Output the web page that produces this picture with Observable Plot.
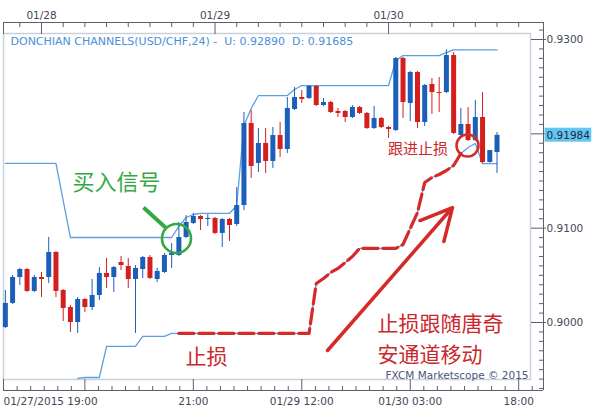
<!DOCTYPE html>
<html><head><meta charset="utf-8">
<script src="https://cdn.jsdelivr.net/npm/d3@7"></script>
<script src="https://cdn.jsdelivr.net/npm/@observablehq/plot@0.6"></script>
<style>
html,body{margin:0;padding:0;background:#fff;}
#chart{width:600px;height:412px;}
</style></head><body><div id="chart"></div>
<script>
// hourly candles, hours relative to 01/28 00:00 (first = 01/27 19:00)
const hours = d3.range(-5, 64);
const open = [0.89947,0.90202,0.90477,0.90562,0.90329,0.90477,0.90477,0.90742,0.90339,0.90159,
0.90000,0.90244,0.90159,0.90286,0.90520,0.90477,0.90636,0.90594,0.90456,0.90562,
0.90689,0.90456,0.90530,0.90710,0.90710,0.90901,0.91050,0.91124,0.91092,0.91103,
0.90944,0.91092,0.91039,0.91240,0.92110,0.91686,0.91898,0.91707,0.91982,0.91834,
0.92258,0.92385,0.92375,0.92502,0.92300,0.92332,0.92237,0.92237,0.92173,0.92279,
0.92216,0.92057,0.92163,0.92067,0.92035,0.92799,0.92322,0.92650,0.92120,0.92523,
0.92438,0.92438,0.92830,0.91982,0.92099,0.91929,0.92173,0.91696,0.91802];
const high = [0.90339,0.90498,0.90573,0.90573,0.90498,0.90530,0.90901,0.90752,0.90349,0.90180,
0.90265,0.90255,0.90456,0.90583,0.90679,0.90594,0.90700,0.90679,0.90604,0.90700,
0.90710,0.90573,0.90732,0.90838,0.91060,0.91134,0.91156,0.91134,0.91145,0.91113,
0.91103,0.91103,0.91431,0.92226,0.92247,0.92057,0.92057,0.92067,0.92120,0.92385,
0.92491,0.92459,0.92512,0.92512,0.92375,0.92343,0.92269,0.92247,0.92300,0.92290,
0.92226,0.92290,0.92173,0.92078,0.92809,0.92809,0.92661,0.92661,0.92523,0.92587,
0.92597,0.92890,0.92862,0.92269,0.92279,0.92353,0.92438,0.91813,0.92014];
const low = [0.89937,0.90191,0.90392,0.90318,0.90318,0.90265,0.90414,0.90265,0.90010,0.89894,
0.89884,0.90106,0.90127,0.90233,0.90361,0.90318,0.90551,0.90361,0.89884,0.90467,
0.90456,0.90424,0.90520,0.90573,0.90700,0.90891,0.91039,0.90975,0.91018,0.90933,
0.90795,0.90859,0.91018,0.91187,0.91527,0.91590,0.91580,0.91633,0.91749,0.91792,
0.92247,0.92322,0.92364,0.92290,0.92290,0.92216,0.92173,0.92120,0.92163,0.92205,
0.92046,0.92046,0.92057,0.91951,0.92025,0.92163,0.92131,0.92057,0.92078,0.92205,
0.92226,0.92428,0.91993,0.91972,0.91919,0.91919,0.91685,0.91690,0.91580];
const close = [0.90202,0.90477,0.90562,0.90329,0.90477,0.90456,0.90742,0.90329,0.90149,0.90000,
0.90244,0.90159,0.90286,0.90520,0.90477,0.90583,0.90604,0.90456,0.90573,0.90689,
0.90467,0.90541,0.90710,0.90732,0.90901,0.91060,0.91124,0.91092,0.91103,0.90944,
0.91092,0.91028,0.91240,0.92110,0.91654,0.91898,0.91707,0.91982,0.91834,0.92269,
0.92385,0.92364,0.92502,0.92300,0.92332,0.92226,0.92216,0.92173,0.92279,0.92216,
0.92057,0.92163,0.92067,0.92046,0.92799,0.92332,0.92650,0.92120,0.92512,0.92438,
0.92428,0.92830,0.92004,0.92099,0.91929,0.92173,0.91696,0.91823,0.91984];
const upper = [0.91686,0.91686,0.91686,0.91686,0.91686,0.91686,0.91686,0.91686,0.91293,0.90901,
0.90901,0.90901,0.90901,0.90901,0.90901,0.90901,0.90901,0.90901,0.90901,0.90901,
0.90901,0.90901,0.90901,0.90901,0.91018,0.91113,0.91145,0.91156,0.91156,0.91156,
0.91156,0.91156,0.91240,0.92088,0.92269,0.92406,0.92406,0.92406,0.92406,0.92406,
0.92470,0.92512,0.92512,0.92512,0.92512,0.92512,0.92512,0.92512,0.92512,0.92512,
0.92512,0.92512,0.92512,0.92512,0.92777,0.92830,0.92830,0.92830,0.92830,0.92830,
0.92830,0.92862,0.92890,0.92890,0.92890,0.92890,0.92890,0.92890,0.92890];
const lower = [null,null,null,null,null,null,null,null,null,null,
0.89407,0.89417,0.89417,0.89417,0.89746,0.89746,0.89746,0.89746,0.89746,0.89852,
0.89852,0.89852,0.89852,0.89884,0.89884,0.89884,0.89884,0.89884,0.89884,0.89884,
0.89884,0.89884,0.89884,0.89884,0.89884,0.89884,0.89884,0.89884,0.89884,0.89884,
0.89884,0.89884,0.89884,0.90414,0.90467,0.90530,0.90573,0.90636,0.90700,0.90785,
0.90785,0.90785,0.90785,0.90785,0.90785,0.90827,0.90997,0.91166,0.91484,0.91537,
0.91569,0.91611,0.91664,0.91792,0.91855,0.91898,0.91685,0.91685,0.91685];

// axis ticks
const topMajor = [-5.256, 0, 24, 48];
const topLabels = ["", "01/28", "01/29", "01/30"];
const bottomMajor = [-5.256, 6, 21, 36, 51, 66];
const bottomLabels = ["", "", "21:00", "01/29 12:00", "01/30 03:00", "18:00"];
const firstBottomLabel = "01/27/2015 19:00";
const yMajor = [0.90, 0.91, 0.92, 0.93];
const yLabels = ["0.9000", "0.9100", "", "0.9300"];
const legendText = "DONCHIAN CHANNELS(USD/CHF,24) -\u00a0\u00a0U: 0.92890\u00a0\u00a0D: 0.91685";
const lastPrice = 0.91984;

// annotations (data coordinates)
const buyText = [{h: 10.37, p: 0.91474, t: "买入信号"}];
const trailText = [{h: 52.07, p: 0.91834, t: "跟进止损"}];
const stopText = [{h: 22.82, p: 0.89629, t: "止损"}];
const noteText = [{h: 46.47, p: 0.89852, t: "止损跟随唐奇\n安通道移动"}];
const arrowData = [{h1: 39.56, p1: 0.89703, h2: 56.84, p2: 0.91219}];
const greenLine = [{h1: 14.11, p1: 0.91219, h2: 17.15, p2: 0.91007}];
const greenRing = [{h: 18.67, p: 0.90891}];
const redRing = [{h: 58.92, p: 0.91876}];

const candles = hours.map((h, i) => ({h, o: open[i], hi: high[i], lo: low[i], c: close[i], upper: upper[i], lower: lower[i]}));
const ups = candles.filter(d => d.c >= d.o), downs = candles.filter(d => d.c < d.o);
const lowerRows = candles.filter(d => d.lower != null);
const dashed = candles.filter(d => d.h >= 19 && d.h <= 58);

const xStart = -5.256, xEnd = 69.43, yMin = 0.892791, yMax = 0.931802;
const BLUE = "#1b5fba", RED = "#d41f1f", CH = "#5b9fdf", GREEN = "#34a843", TRED = "#c9282c";
const AX = "#5d6068", TXT = "#3f4858";
const minorTop = d3.range(-3, 69, 3).filter(h => h % 24 !== 0);
const minorBottomTicks = d3.range(6 - 1.875 * 5, 69.4, 1.875).filter(h => h > xStart + 0.5 && !bottomMajor.some(m => Math.abs(m - h) < 0.01));
const yMinor = d3.range(893, 932).map(v => v / 1000).filter(v => !yMajor.some(m => Math.abs(m - v) < 1e-6));

const cjk = "Noto Sans CJK SC";
const plot = Plot.plot({
  width: 600, height: 412,
  marginLeft: 3, marginRight: 57, marginTop: 22, marginBottom: 22,
  x: {domain: [xStart, xEnd]},
  y: {domain: [yMin, yMax]},
  style: {background: "white", fontFamily: "DejaVu Sans", fontSize: "10.5px", color: AX},
  marks: [
    Plot.frame({fill: "white", stroke: "#c9d1db", strokeWidth: 1.5, insetTop: 11, insetBottom: 11, insetRight: 13}),
    Plot.line(candles, {x: "h", y: "upper", stroke: CH, strokeWidth: 1.3}),
    Plot.line(lowerRows, {x: "h", y: "lower", stroke: CH, strokeWidth: 1.3}),
    Plot.ruleX(ups, {x: "h", y1: "lo", y2: "hi", stroke: BLUE, strokeWidth: 1}),
    Plot.ruleX(downs, {x: "h", y1: "lo", y2: "hi", stroke: RED, strokeWidth: 1}),
    Plot.ruleX(ups, {x: "h", y1: "o", y2: "c", stroke: BLUE, strokeWidth: 5}),
    Plot.ruleX(downs, {x: "h", y1: "o", y2: "c", stroke: RED, strokeWidth: 5}),
    Plot.line(dashed, {x: "h", y: "lower", stroke: "#d62a2a", strokeWidth: 3.2, strokeDasharray: "15,5"}),
    // annotations
    Plot.text(buyText, {x: "h", y: "p", text: "t", fill: GREEN, fontSize: 22, fontFamily: cjk}),
    Plot.link(greenLine, {x1: "h1", y1: "p1", x2: "h2", y2: "p2", stroke: GREEN, strokeWidth: 4}),
    Plot.dot(greenRing, {x: "h", y: "p", r: 14.5, stroke: GREEN, strokeWidth: 2.6, fill: "none"}),
    Plot.text(trailText, {x: "h", y: "p", text: "t", fill: TRED, fontSize: 15, fontFamily: cjk}),
    Plot.dot(redRing, {x: "h", y: "p", r: 11, stroke: "#d42a2a", strokeWidth: 2.5, fill: "none"}),
    Plot.text(stopText, {x: "h", y: "p", text: "t", fill: TRED, fontSize: 21, fontFamily: cjk}),
    Plot.text(noteText, {x: "h", y: "p", text: "t", fill: TRED, fontSize: 21, lineHeight: 1.46, fontFamily: cjk, textAnchor: "start"}),
    Plot.arrow(arrowData, {x1: "h1", y1: "p1", x2: "h2", y2: "p2", stroke: "#d42a2a", strokeWidth: 3.5, headLength: 15, headAngle: 54}),
    Plot.text([legendText], {frameAnchor: "top-left", dx: 7, dy: 15, lineAnchor: "top", fill: "#4a90d8", fontSize: 11}),
    Plot.text(["FXCM Marketscope © 2015"], {frameAnchor: "bottom-right", dx: -15, dy: -12, lineAnchor: "bottom", textAnchor: "end", fill: "#4b5577", fontSize: 10.5}),
    // axis lines
    Plot.ruleY([yMax], {stroke: AX}),
    Plot.ruleY([yMin], {stroke: AX}),
    Plot.ruleX([xEnd], {stroke: AX}),
    // top axis
    Plot.axisX(topMajor, {anchor: "top", tickSize: 11, dy: 11, tickFormat: () => "", stroke: AX}),
    Plot.axisX(minorTop, {anchor: "top", tickSize: 4, dy: 4, tickFormat: () => "", stroke: AX}),
    Plot.axisX(topMajor.slice(1), {anchor: "top", tickSize: 0, tickPadding: 4, tickFormat: d => topLabels[topMajor.indexOf(d)], fill: TXT, fontSize: 10.5}),
    // bottom axis
    Plot.axisX(bottomMajor, {anchor: "bottom", tickSize: 11, dy: -11, tickFormat: () => "", stroke: AX}),
    Plot.axisX(minorBottomTicks, {anchor: "bottom", tickSize: 4, dy: -4, tickFormat: () => "", stroke: AX}),
    Plot.axisX(bottomMajor.slice(2), {anchor: "bottom", tickSize: 0, tickPadding: 7, tickFormat: d => bottomLabels[bottomMajor.indexOf(d)], fill: TXT, fontSize: 10.5}),
    Plot.axisX([xStart], {anchor: "bottom", tickSize: 0, tickPadding: 7, textAnchor: "start", tickFormat: () => firstBottomLabel, fill: TXT, fontSize: 10.5}),
    // right axis
    Plot.axisY(yMajor, {anchor: "right", tickSize: 15, dx: -13, tickFormat: () => "", stroke: AX}),
    Plot.axisY(yMinor, {anchor: "right", tickSize: 5, dx: -5, tickFormat: () => "", stroke: AX}),
    Plot.axisY(yMajor, {anchor: "right", tickSize: 0, tickPadding: 3, tickFormat: d => yLabels[yMajor.indexOf(d)], fill: TXT, fontSize: 10.5}),
    Plot.text([lastPrice], {frameAnchor: "right", y: d => d, dx: 3, textAnchor: "start", text: d => d.toFixed(5), fill: "#1d2b3a", fontSize: 10.5})
  ]
});
document.getElementById("chart").appendChild(plot);
// highlight box behind last price label
const svg = d3.select(plot);
svg.selectAll("text").filter(function() { return this.textContent === lastPrice.toFixed(5); }).each(function() {
  const b = this.getBBox();
  const rect = document.createElementNS("http://www.w3.org/2000/svg", "rect");
  rect.setAttribute("x", b.x - 2); rect.setAttribute("y", b.y - 1);
  rect.setAttribute("width", b.width + 3); rect.setAttribute("height", b.height + 2);
  rect.setAttribute("fill", "#63c5f1");
  const t = this.getAttribute("transform"); if (t) rect.setAttribute("transform", t);
  this.parentNode.insertBefore(rect, this);
});
</script></body></html>
